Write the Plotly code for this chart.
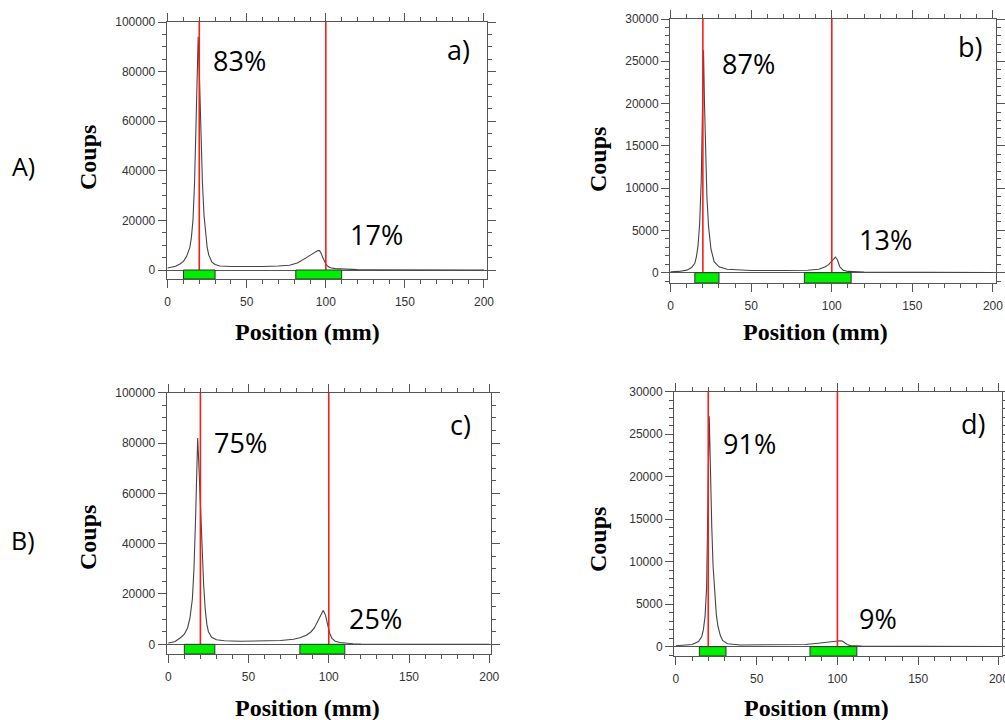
import plotly.graph_objects as go

W, H = 1005, 720

# ---------------- data ----------------
pos_a = [0, 5, 8, 10, 12, 14, 15, 16, 17, 18, 19, 19.3, 20, 21, 22, 23, 24, 25, 26, 28, 30, 33, 40, 50,
         60, 70, 77, 82, 85, 88, 91, 93, 95, 96, 97, 98, 99, 100, 101.5, 103, 106, 110, 115, 120, 130, 150, 175, 200]
cnt_a = [800, 1500, 2500, 3500, 5500, 9000, 13000, 20000, 35000, 62000, 88000, 94000, 80000, 55000, 35000,
         22000, 14000, 9000, 6000, 3200, 2200, 1600, 1400, 1300,
         1400, 1600, 1900, 2800, 3800, 5100, 6300, 7200, 7800, 7800, 6800, 5100, 3600, 2400, 1400, 900, 550,
         350, 200, 150, 120, 80, 40, 10]

pos_b = [0, 5, 10, 13, 15, 16, 17, 18, 19, 19.5, 20, 20.4, 21, 21.7, 22.5, 23.5, 25, 27, 30, 35, 50, 70, 85,
         92, 96, 98, 100, 101, 102.3, 103.5, 105, 107, 110, 120, 150, 200]
cnt_b = [100, 150, 300, 600, 1100, 1900, 3200, 5800, 11000, 17000, 24000, 26300, 20000, 14000, 9000, 5500,
         2800, 1300, 700, 400, 250, 250, 280, 400, 700, 950, 1350, 1650, 1850, 1500, 700, 300, 150, 80, 40, 20]

pos_c = [0, 4, 8, 10, 12, 13.5, 15, 16, 17, 18, 18.3, 19, 20, 21, 22, 23, 24, 25, 27, 30, 35, 45, 60, 70,
         78, 82, 86, 89, 91, 93, 95, 96.6, 98, 99.3, 100.5, 102, 104, 107, 110, 115, 120, 140, 170, 200]
cnt_c = [500, 1000, 2800, 4000, 6500, 10500, 18000, 30000, 50000, 76000, 82000, 72000, 54000, 38000, 24000,
         14000, 8000, 5000, 2800, 1800, 1400, 1200, 1300, 1500, 2000, 2600, 3600, 5000, 6500, 9000, 11800,
         13500, 11500, 7500, 4500, 2300, 1200, 700, 450, 250, 150, 80, 40, 10]

pos_d = [0, 5, 10, 14, 16, 17, 18, 19, 19.7, 20.3, 20.6, 21, 21.5, 22.2, 23, 24, 25, 26, 27.5, 29, 32, 40,
         60, 80, 88, 93, 97, 100, 101.5, 103, 104.5, 106, 108, 115, 150, 200]
cnt_d = [100, 150, 250, 600, 1200, 2000, 3500, 7000, 14000, 22000, 27100, 24000, 19000, 14000, 9500, 6000,
         3800, 2400, 1300, 700, 350, 200, 200, 250, 400, 520, 620, 680, 700, 650, 450, 250, 120, 60, 30, 10]

positions = [pos_a, pos_b, pos_c, pos_d]
counts = [cnt_a, cnt_b, cnt_c, cnt_d]

panel_letters = ["a)", "b)", "c)", "d)"]
pct_first = ["83%", "87%", "75%", "91%"]
pct_second = ["17%", "13%", "25%", "9%"]
row_labels = ["A)", "B)"]
ref_lines = [20, 100]
green_windows = [
    [(10, 30), (81, 110)],
    [(15, 30), (83, 112)],
    [(10, 29), (82, 110)],
    [(14.5, 31), (83, 112)],
]
y_max = [100000, 30000, 100000, 30000]
y_dtick = [20000, 5000, 20000, 5000]
y_minor = [5000, 1000, 5000, 1000]
x_ticks = [0, 50, 100, 150, 200]
x_title = "Position (mm)"
y_title = "Coups"

# ---------------- layout geometry (pixels) ----------------
frames = [(166.7, 487.0, 22.0, 279.0), (670.0, 996.0, 19.0, 283.0),
          (166.7, 491.0, 392.7, 654.0), (674.0, 1001.7, 391.7, 656.0)]
xranges = [(-0.6, 201.9), (-0.4, 201.9), (-1.0, 201.1), (-1.2, 201.7)]
ybottoms = [-3630, -1220, -3850, -1100]

def px(x):
    return x / W

def py(y):
    return 1 - y / H

GRAY = "#555555"
TICKFONT = dict(family="Liberation Sans, Arial", size=12, color="#333333")
BIGFONT = dict(family="Open Sans, Lato, sans-serif", size=27, color="black")
TITLEFONT = dict(family="Liberation Serif, Times New Roman, serif", size=24, color="black")

fig = go.Figure()
shapes = []
annotations = []

for i in range(4):
    sx = "" if i == 0 else str(i + 1)
    xa, ya = "x" + sx, "y" + sx
    fig.add_trace(go.Scatter(x=positions[i], y=counts[i], mode="lines",
                             line=dict(color="#444444", width=1.1),
                             xaxis=xa, yaxis=ya, showlegend=False, hoverinfo="skip"))
    l, r, t, b = frames[i]
    common = dict(showline=True, linecolor=GRAY, linewidth=1, mirror="allticks",
                  ticks="outside", ticklen=8, tickcolor=GRAY, tickwidth=1, automargin=False,
                  ticklabeloverflow="allow",
                  showgrid=False, tickfont=TICKFONT, fixedrange=True)
    fig.update_layout(**{
        ("xaxis" + sx): dict(domain=[px(l), px(r)], range=list(xranges[i]), anchor=ya,
                             tickvals=x_ticks, zeroline=False, ticklabelstandoff=4,
                             minor=dict(dtick=10, tick0=0, ticklen=4, tickcolor=GRAY, ticks="outside"),
                             **common),
        ("yaxis" + sx): dict(domain=[py(b), py(t)], range=[ybottoms[i], y_max[i]], anchor=xa,
                             dtick=y_dtick[i], tick0=0, tickformat="d", zeroline=True, zerolinecolor=GRAY,
                             zerolinewidth=1,
                             minor=dict(dtick=y_minor[i], tick0=0, ticklen=4, tickcolor=GRAY, ticks="outside"),
                             **common),
    })
    # red reference lines
    for xv in ref_lines:
        shapes.append(dict(type="line", xref=xa, yref=ya, x0=xv, x1=xv, y0=0, y1=y_max[i],
                           line=dict(color="#ff1a1a", width=1.6), layer="above"))
    # green windows
    for (g0, g1) in green_windows[i]:
        shapes.append(dict(type="rect", xref=xa, yref=ya, x0=g0, x1=g1, y0=ybottoms[i], y1=0,
                           fillcolor="#00ee00", line=dict(color="#333333", width=1), layer="above"))

# text annotations (pixel positions)
first_pos = [(211, 60), (720, 63), (211.7, 442.5), (720.7, 443.3)]
second_pos = [(348.3, 235), (856.7, 240), (347.3, 618.3), (856.7, 618.3)]
letter_pos = [(472, 50), (984, 46), (473.3, 424), (986.7, 423)]
ytitle_pos = [(88, 158), (598, 160), (88, 538), (598, 540)]
xtitle_pos = [(307, 332), (815, 332), (307, 708), (816, 708)]
row_pos = [(23, 166), (23, 540)]

for i in range(4):
    annotations.append(dict(text=pct_first[i], x=px(first_pos[i][0]), y=py(first_pos[i][1]),
                            xref="paper", yref="paper", xanchor="left", yanchor="middle",
                            showarrow=False, font=BIGFONT))
    annotations.append(dict(text=pct_second[i], x=px(second_pos[i][0]), y=py(second_pos[i][1]),
                            xref="paper", yref="paper", xanchor="left", yanchor="middle",
                            showarrow=False, font=BIGFONT))
    annotations.append(dict(text=panel_letters[i], x=px(letter_pos[i][0]), y=py(letter_pos[i][1]),
                            xref="paper", yref="paper", xanchor="right", yanchor="middle",
                            showarrow=False, font=BIGFONT))
    annotations.append(dict(text="<b>" + y_title + "</b>", x=px(ytitle_pos[i][0]), y=py(ytitle_pos[i][1]),
                            xref="paper", yref="paper", xanchor="center", yanchor="middle",
                            textangle=-90, showarrow=False, font=TITLEFONT))
    annotations.append(dict(text="<b>" + x_title + "</b>", x=px(xtitle_pos[i][0]), y=py(xtitle_pos[i][1]),
                            xref="paper", yref="paper", xanchor="center", yanchor="middle",
                            showarrow=False, font=TITLEFONT))

for j in range(2):
    annotations.append(dict(text=row_labels[j], x=px(row_pos[j][0]), y=py(row_pos[j][1]),
                            xref="paper", yref="paper", xanchor="center", yanchor="middle",
                            showarrow=False,
                            font=dict(family="Open Sans, Lato, sans-serif", size=25, color="black")))

fig.update_layout(width=W, height=H, margin=dict(l=0, r=0, t=0, b=0, autoexpand=False),
                  paper_bgcolor="white", plot_bgcolor="white",
                  shapes=shapes, annotations=annotations, showlegend=False)

fig.write_html("out.html", config={"displayModeBar": False, "staticPlot": True},
               post_script="document.body.style.margin='0';document.body.style.overflow='hidden';")
